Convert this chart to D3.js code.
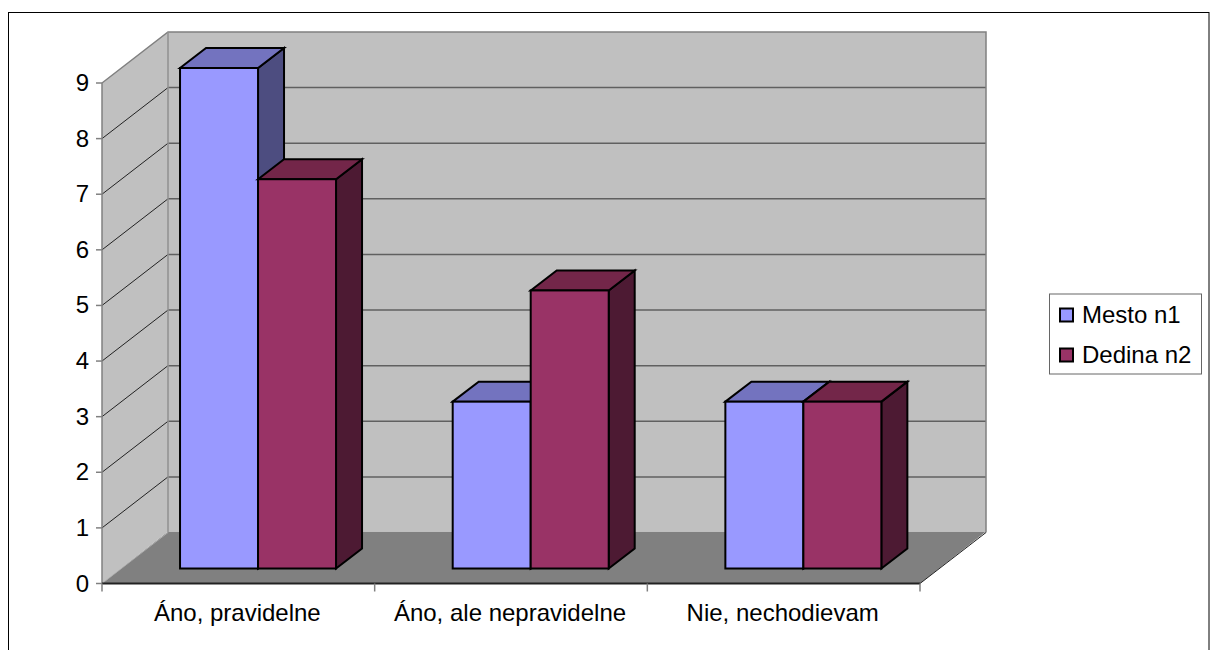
<!DOCTYPE html>
<html>
<head>
<meta charset="utf-8">
<script src="https://cdn.jsdelivr.net/npm/d3@7/dist/d3.min.js"></script>
<style>
html,body{margin:0;padding:0;background:#fff;overflow:hidden}
svg{display:block}
text{font-family:"Liberation Sans",Arial,sans-serif;fill:#000}
</style>
</head>
<body>
<svg id="chart" width="1210" height="650"></svg>
<script>
const categories = ["Áno, pravidelne", "Áno, ale nepravidelne", "Nie, nechodievam"];
const seriesNames = ["Mesto n1", "Dedina n2"];
const mesto = [9, 3, 3];
const dedina = [7, 5, 3];
const yTicks = [0, 1, 2, 3, 4, 5, 6, 7, 8, 9];

const frontFill = ["#9999ff", "#993366"];
const topFill = ["#7373bf", "#732649"];
const sideFill = ["#4d4d80", "#4d1a33"];

const svg = d3.select("#chart");

// Oblique projection: wall depth and bar depth
const wallDx = 66, wallDy = -51;
const barDx = 26, barDy = -20;
const barInsetX = 19.7, barInsetY = -15;

const x = d3.scaleBand().domain(categories).range([102, 920]);
const y = d3.scaleLinear().domain([0, 9]).range([583.5, 83]);
const barW = 78;

const pts = a => a.map(p => p.join(",")).join(" ");

// Outer frame
svg.append("rect").attr("x", 8.5).attr("y", 12.5).attr("width", 1200.5).attr("height", 660)
  .attr("fill", "#fff").attr("stroke", "#000").attr("stroke-width", 1);

const x0 = x.range()[0], x1 = x.range()[1], y0 = y(0), yMax = y(9);

// Floor, reaching one pixel behind the foot of the back wall
svg.append("polygon")
  .attr("points", pts([[x0, y0], [x0 + wallDx, y0 + wallDy - 1], [x1 + wallDx, y0 + wallDy - 1], [x1, y0]]))
  .attr("fill", "#808080");

// Side wall and back wall
svg.append("polygon")
  .attr("points", pts([[x0, y0], [x0 + wallDx, y0 + wallDy - 1], [x0 + wallDx, yMax + wallDy], [x0, yMax]]))
  .attr("fill", "#c0c0c0");
svg.append("rect")
  .attr("x", x0 + wallDx).attr("y", yMax + wallDy)
  .attr("width", x1 - x0).attr("height", y0 - yMax - 1)
  .attr("fill", "#c0c0c0");

// Gridlines across both walls
const grid = svg.append("g");
yTicks.filter(t => t > 0 && t < 9).forEach(t => {
  grid.append("line")
    .attr("x1", x0).attr("y1", y(t)).attr("x2", x0 + wallDx).attr("y2", y(t) + wallDy)
    .attr("stroke", "#222").attr("stroke-width", 1);
  grid.append("line")
    .attr("x1", x0 + wallDx).attr("y1", y(t) + wallDy).attr("x2", x1 + wallDx).attr("y2", y(t) + wallDy)
    .attr("stroke", "#606060").attr("stroke-width", 1.5);
});

// Wall outlines
svg.append("path")
  .attr("d", `M${x0},${yMax}L${x0 + wallDx},${yMax + wallDy}H${x1 + wallDx}V${y0 + wallDy}`)
  .attr("fill", "none").attr("stroke", "#808080").attr("stroke-width", 1.5);
svg.append("line")
  .attr("x1", x0 + wallDx).attr("y1", yMax + wallDy).attr("x2", x0 + wallDx).attr("y2", y0 + wallDy)
  .attr("stroke", "#909090").attr("stroke-width", 1.5);
svg.append("line")
  .attr("x1", x0).attr("y1", y0).attr("x2", x0 + wallDx).attr("y2", y0 + wallDy)
  .attr("stroke", "#aaa").attr("stroke-width", 1);
svg.append("line")
  .attr("x1", x1).attr("y1", y0).attr("x2", x1 + wallDx).attr("y2", y0 + wallDy)
  .attr("stroke", "#222").attr("stroke-width", 1);

// Three-faced bars, drawn left to right so nearer faces overlap correctly
const series = [mesto, dedina];
const bars = svg.append("g").attr("stroke", "#000").attr("stroke-width", 2).attr("stroke-linejoin", "miter");
categories.forEach((c, ci) => {
  const cx = x(c) + x.bandwidth() / 2 + barInsetX;
  series.forEach((vals, si) => {
    const l = cx - barW + si * barW, r = l + barW;
    const top = y(vals[ci]) + barInsetY, bot = y(0) + barInsetY;
    bars.append("polygon").attr("fill", sideFill[si])
      .attr("points", pts([[r, top], [r + barDx, top + barDy], [r + barDx, bot + barDy], [r, bot]]));
    bars.append("polygon").attr("fill", topFill[si])
      .attr("points", pts([[l, top], [l + barDx, top + barDy], [r + barDx, top + barDy], [r, top]]));
    bars.append("rect").attr("fill", frontFill[si])
      .attr("x", l).attr("y", top).attr("width", r - l).attr("height", bot - top);
  });
});

// Value axis
const yAxis = svg.append("g");
yAxis.append("line").attr("x1", x0).attr("y1", yMax).attr("x2", x0).attr("y2", y0)
  .attr("stroke", "#808080").attr("stroke-width", 1.5);
yTicks.forEach(t => {
  yAxis.append("line").attr("x1", x0 - 6).attr("y1", y(t)).attr("x2", x0).attr("y2", y(t))
    .attr("stroke", "#808080").attr("stroke-width", 1.5);
  yAxis.append("text").attr("x", 89).attr("y", y(t) + 8)
    .attr("text-anchor", "end").attr("font-size", 24).text(t);
});

// Category axis
const xAxis = svg.append("g");
xAxis.append("line").attr("x1", x0).attr("y1", y0).attr("x2", x1).attr("y2", y0)
  .attr("stroke", "#222").attr("stroke-width", 2);
d3.range(categories.length + 1).forEach(i => {
  const tx = x0 + i * x.step();
  xAxis.append("line").attr("x1", tx).attr("y1", y0).attr("x2", tx).attr("y2", y0 + 8)
    .attr("stroke", "#808080").attr("stroke-width", 1.5);
});
categories.forEach(c => {
  xAxis.append("text").attr("x", x(c) + x.bandwidth() / 2 - 1).attr("y", 621)
    .attr("text-anchor", "middle").attr("font-size", 24).text(c);
});

// Legend
const legend = svg.append("g");
legend.append("rect").attr("x", 1049.5).attr("y", 294).attr("width", 152).attr("height", 80)
  .attr("fill", "#fff").attr("stroke", "#666").attr("stroke-width", 1);
seriesNames.forEach((n, i) => {
  const ly = 315 + i * 40;
  legend.append("rect").attr("x", 1060).attr("y", ly - 6.5).attr("width", 13).attr("height", 13)
    .attr("fill", frontFill[i]).attr("stroke", "#000").attr("stroke-width", 2);
  legend.append("text").attr("x", 1082).attr("y", ly + 7.5).attr("font-size", 24).text(n);
});
</script>
</body>
</html>
